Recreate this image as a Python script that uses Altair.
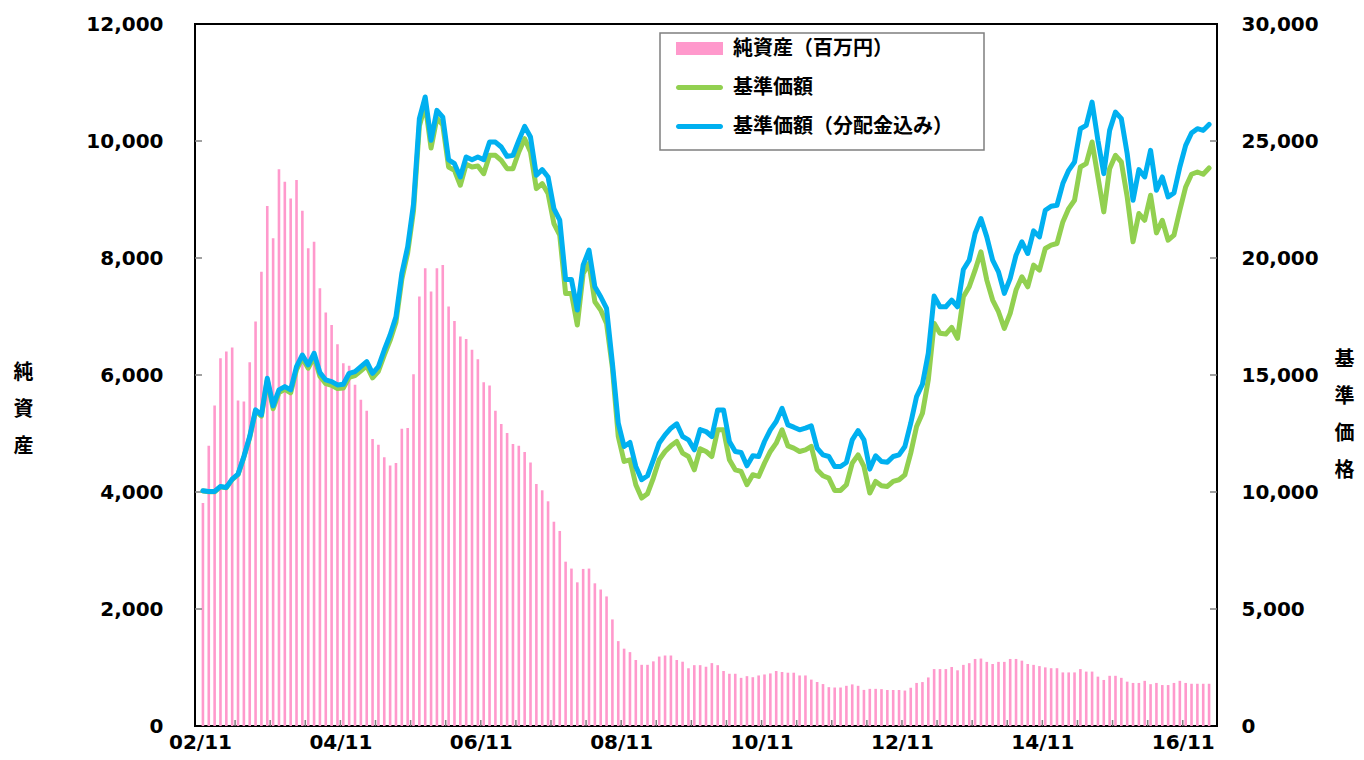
import json
import altair as alt
import pandas as pd

# ---------------- data (monthly, 2002/11 .. 2017/03) ----------------
net_assets = [
    3812, 4791, 5479, 6287, 6401, 6470, 5565, 5548, 6219, 6913,
    7767, 8888, 8336, 9519, 9303, 9019, 9332, 8808, 8165, 8279,
    7482, 7067, 6856, 6526, 6202, 6157, 5832, 5576, 5388, 4905,
    4808, 4592, 4455, 4495, 5081, 5093, 6014, 7340, 7824, 7426,
    7824, 7881, 7169, 6925, 6657, 6617, 6430, 6270, 5878, 5821,
    5388, 5161, 5007, 4819, 4791, 4683, 4506, 4137, 4029, 3841,
    3492, 3334, 2809, 2691, 2456, 2685, 2691, 2439, 2333, 2215,
    1822, 1451, 1322, 1263, 1128, 1046, 1046, 1105, 1187, 1205,
    1205, 1128, 1099, 987, 1040, 1040, 1011, 1075, 1040, 940,
    893, 893, 823, 852, 834, 864, 881, 899, 940, 923,
    911, 911, 864, 864, 793, 752, 717, 664, 658, 658,
    687, 711, 687, 617, 635, 635, 630, 615, 615, 615,
    606, 654, 736, 751, 830, 973, 973, 973, 1009, 952,
    1045, 1074, 1146, 1153, 1096, 1060, 1096, 1096, 1146, 1146,
    1117, 1060, 1045, 1024, 1002, 988, 988, 916, 916, 916,
    973, 930, 930, 844, 787, 858, 858, 823, 758, 736,
    736, 772, 715, 736, 700, 700, 736, 772, 736, 722,
    722, 722, 722,
]

nav = [
    10040, 10010, 10010, 10220, 10180, 10530, 10740, 11490, 12330, 13460,
    13240, 14780, 13560, 14250, 14390, 14240, 15230, 15720, 15290, 15770,
    14950, 14630, 14560, 14420, 14440, 14900, 14970, 15180, 15390, 14880,
    15160, 15850, 16480, 17260, 19090, 20220, 22020, 25640, 26560, 24700,
    25980, 25690, 23890, 23747, 23108, 24003, 23890, 23932, 23605, 24387,
    24387, 24174, 23819, 23819, 24530, 25099, 24530, 22965, 23179, 22752,
    21472, 20975, 18486, 18486, 17135, 19339, 19766, 18131, 17775, 17206,
    15300, 12371, 11305, 11376, 10310, 9741, 9926, 10594, 11376, 11732,
    11973, 12158, 11660, 11518, 10949, 11850, 11732, 11518, 12656, 12656,
    11376, 10949, 10878, 10310, 10736, 10665, 11234, 11732, 12087, 12656,
    11973, 11874, 11732, 11803, 11945, 10949, 10693, 10594, 10068, 10068,
    10310, 11234, 11589, 11092, 9954, 10452, 10267, 10238, 10452, 10523,
    10736, 11660, 12798, 13367, 14789, 17206, 16780, 16751, 17036, 16566,
    18344, 18770, 19481, 20264, 19055, 18202, 17704, 16993, 17633, 18628,
    19197, 18770, 19695, 19481, 20406, 20548, 20619, 21543, 22112, 22468,
    23890, 24032, 24956, 23463, 21970, 23819, 24387, 24103, 22610, 20690,
    21899, 21614, 22681, 21074, 21614, 20761, 20975, 22041, 23036, 23577,
    23676, 23577, 23847,
]

nav_div = [
    10053, 10025, 10025, 10238, 10196, 10551, 10765, 11518, 12371, 13509,
    13296, 14860, 13680, 14362, 14504, 14362, 15358, 15855, 15429, 15926,
    15102, 14789, 14718, 14576, 14604, 15073, 15144, 15358, 15571, 15073,
    15358, 16069, 16709, 17491, 19339, 20477, 22300, 25950, 26880, 25030,
    26310, 26020, 24200, 24032, 23463, 24316, 24202, 24316, 24202, 24956,
    24956, 24743, 24345, 24387, 25027, 25624, 25169, 23534, 23776, 23463,
    22112, 21614, 19083, 19083, 17775, 19695, 20335, 18770, 18344, 17846,
    15500, 12940, 11945, 12115, 11092, 10523, 10693, 11376, 12087, 12443,
    12727, 12912, 12371, 12229, 11803, 12670, 12585, 12371, 13509, 13509,
    12158, 11732, 11689, 11120, 11547, 11518, 12158, 12656, 13011, 13580,
    12869, 12770, 12656, 12727, 12826, 11874, 11589, 11518, 11092, 11092,
    11262, 12229, 12627, 12229, 10978, 11547, 11305, 11276, 11518, 11589,
    11945, 12940, 14078, 14604, 15926, 18372, 17917, 17917, 18202, 17917,
    19510, 19908, 21046, 21686, 20903, 19908, 19410, 18486, 19126, 20121,
    20690, 20192, 21159, 20903, 22041, 22212, 22254, 23179, 23747, 24103,
    25525, 25667, 26663, 25027, 23605, 25454, 26236, 25952, 24458, 22468,
    23776, 23463, 24601, 22894, 23463, 22610, 22780, 23890, 24814, 25340,
    25525, 25454, 25710,
]

x_tick_labels = ["02/11", "04/11", "06/11", "08/11", "10/11", "12/11", "14/11", "16/11"]
left_ticks = [0, 2000, 4000, 6000, 8000, 10000, 12000]
right_ticks = [0, 5000, 10000, 15000, 20000, 25000, 30000]
series_names = ["純資産（百万円）", "基準価額", "基準価額（分配金込み）"]
series_colors = ["#FF99CC", "#92D050", "#00B0F0"]
left_title = ["純", "資", "産"]
right_title = ["基", "準", "価", "格"]

# ---------------- layout / style ----------------
W, H = 1022, 702
N = len(net_assets)
NUM_FONT = "DejaVu Sans"
JP_FONT = "Noto Sans CJK JP"
TICK_COLOR = "#808080"

df = pd.DataFrame({
    "t": [i + 0.5 for i in range(N)],
    "assets": net_assets,
    "nav": nav,
    "nav_div": nav_div,
})

xscale = alt.Scale(domain=[0, N], nice=False, zero=False)
yl_scale = alt.Scale(domain=[0, 12000], nice=False)
yr_scale = alt.Scale(domain=[0, 30000], nice=False)

label_expr = json.dumps(x_tick_labels, ensure_ascii=False) + "[round(datum.value / 24)]"

x_axis = alt.Axis(
    values=[24 * i for i in range(len(x_tick_labels))],
    labelExpr=label_expr, ticks=False, tickSize=0, domain=False, grid=False,
    labelFont=NUM_FONT, labelFontSize=20, labelFontWeight="bold", labelColor="black",
    labelPadding=6, labelFlush=False, labelOverlap=False, title=None, zindex=1,
)

yl_axis = alt.Axis(
    orient="left", values=left_ticks, format=",d", ticks=False, tickSize=0,
    domain=False, grid=False, labelFont=NUM_FONT, labelFontSize=20,
    labelFontWeight="bold", labelColor="black", labelPadding=32,
    labelFlush=False, labelOverlap=False,
    title=left_title, titleAngle=0, titleX=-172, titleY=338, titleBaseline="top",
    titleAlign="center", titleLineHeight=37, titleFont=JP_FONT, titleFontSize=20,
    titleFontWeight="bold", titleColor="black", zindex=1,
)

yr_axis = alt.Axis(
    orient="right", values=right_ticks, format=",d", ticks=False, tickSize=0,
    domain=False, grid=False, labelFont=NUM_FONT, labelFontSize=20,
    labelFontWeight="bold", labelColor="black", labelPadding=24,
    labelFlush=False, labelOverlap=False,
    title=right_title, titleAngle=0, titleX=127, titleY=325, titleBaseline="top",
    titleAlign="center", titleLineHeight=37, titleFont=JP_FONT, titleFontSize=20,
    titleFontWeight="bold", titleColor="black", zindex=1,
)

X = lambda f: alt.X(f, scale=xscale, axis=x_axis)
YL = lambda f: alt.Y(f, scale=yl_scale, axis=yl_axis)
YR = lambda f: alt.Y(f, scale=yr_scale, axis=yr_axis)

# ---------------- left-axis layer: bars + inward ticks ----------------
bars = alt.Chart(df).mark_bar(color=series_colors[0], width=2.6).encode(
    x=X("t:Q"), y=YL("assets:Q"),
)

left_tick_marks = alt.Chart(pd.DataFrame({"v": left_ticks[1:-1]})).mark_rule(
    color=TICK_COLOR, strokeWidth=1.5
).encode(
    y=YL("v:Q"), x=alt.value(0), x2=alt.value(7),
)

x_tick_marks = alt.Chart(pd.DataFrame({"t": list(range(6, N, 6))})).mark_rule(
    color=TICK_COLOR, strokeWidth=1.5
).encode(
    x=X("t:Q"), y=alt.value(H - 6), y2=alt.value(H),
)

left_layer = alt.layer(bars, left_tick_marks, x_tick_marks)

# ---------------- right-axis layer: lines + inward ticks ----------------
green = alt.Chart(df).mark_line(
    color=series_colors[1], strokeWidth=5, strokeJoin="round", strokeCap="round"
).encode(x=X("t:Q"), y=YR("nav:Q"))

blue = alt.Chart(df).mark_line(
    color=series_colors[2], strokeWidth=5, strokeJoin="round", strokeCap="round"
).encode(x=X("t:Q"), y=YR("nav_div:Q"))

right_tick_marks = alt.Chart(pd.DataFrame({"v": right_ticks[1:-1]})).mark_rule(
    color=TICK_COLOR, strokeWidth=1.5
).encode(
    y=YR("v:Q"), x=alt.value(W - 7), x2=alt.value(W),
)

right_layer = alt.layer(green, blue, right_tick_marks)

# ---------------- legend (frame + merged color/shape legend) ----------------
frame = alt.Chart(pd.DataFrame({"k": [0]})).mark_rect(
    fill="white", stroke="#7F7F7F", strokeWidth=1.5
).encode(
    x=alt.value(465), x2=alt.value(789), y=alt.value(9), y2=alt.value(126),
)

rect_path = "M-2.35,-0.65L2.35,-0.65L2.35,0.65L-2.35,0.65Z"
line_path = "M-2.1,-0.25L2.1,-0.25A0.25,0.25 0 0 1 2.1,0.25L-2.1,0.25A0.25,0.25 0 0 1 -2.1,-0.25Z"
legend_cfg = dict(
    orient="none", legendX=494.5, legendY=14.5, title=None, direction="vertical",
    labelFont=JP_FONT, labelFontSize=20, labelFontWeight="bold", labelColor="black",
    labelLimit=500, labelOffset=23.5, symbolSize=400, symbolStrokeWidth=0,
    symbolOpacity=1, rowPadding=19, padding=0,
)

legend_pts = alt.Chart(pd.DataFrame({"s": series_names})).mark_point(
    filled=True, opacity=1, size=400
).encode(
    x=alt.value(-3000), y=alt.value(-3000),
    color=alt.Color("s:N", scale=alt.Scale(domain=series_names, range=series_colors),
                    legend=alt.Legend(**legend_cfg)),
    shape=alt.Shape("s:N", scale=alt.Scale(domain=series_names,
                                           range=[rect_path, line_path, line_path]),
                    legend=alt.Legend(**legend_cfg)),
)

chart = (
    alt.layer(left_layer, right_layer, frame, legend_pts)
    .resolve_scale(y="independent")
    .properties(
        width=W, height=H,
        autosize=alt.AutoSizeParams(type="none"),
        padding={"left": 187, "top": 16, "right": 139, "bottom": 26},
        background="white",
    )
    .configure_view(stroke="black", strokeWidth=2)
)

chart.save("out.html", embed_options={"renderer": "svg", "actions": False})
